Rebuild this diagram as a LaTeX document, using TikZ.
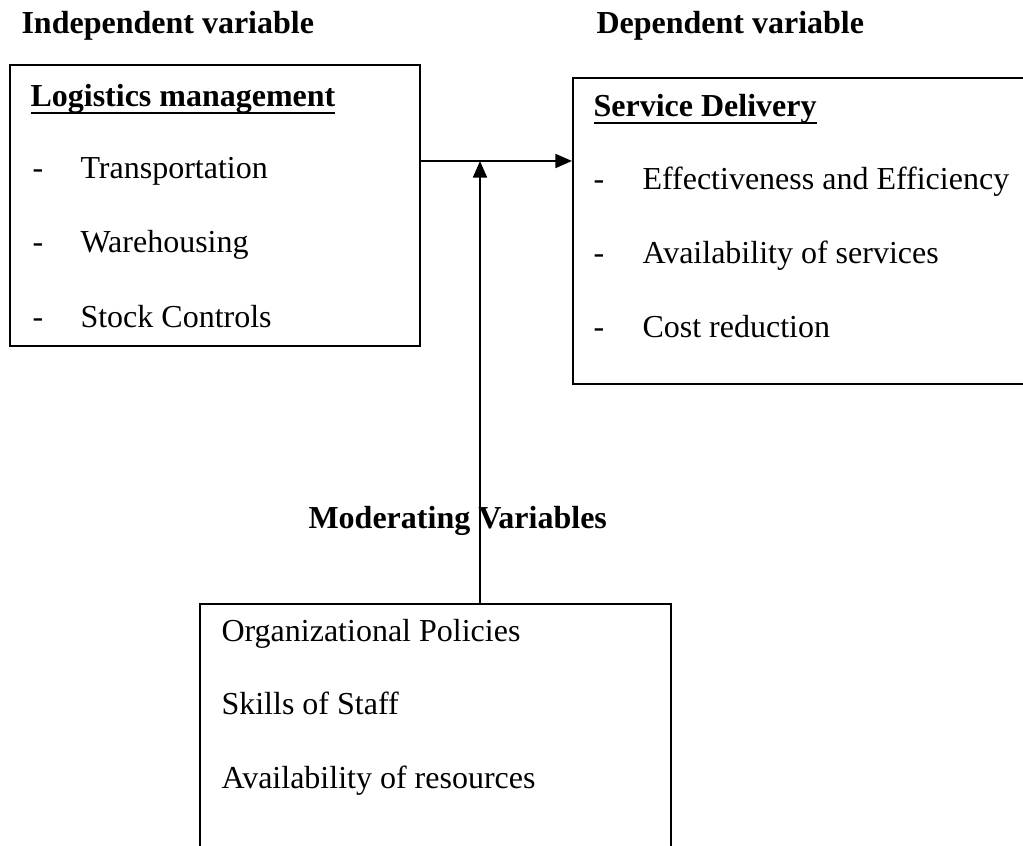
\documentclass[tikz,border=0pt]{standalone}
\usepackage{fontspec}
\setmainfont{Liberation Serif}
\usetikzlibrary{arrows.meta}

% heavier underline for the box titles
\newcommand{\thickul}[1]{\setbox0\hbox{#1}\rlap{\rule[-2.5pt]{\wd0}{0.8pt}}\box0}

\begin{document}
\begin{tikzpicture}[x=0.375pt, y=-0.375pt,
    >={Triangle[length=6.2pt, width=5.2pt]},
    box/.style={draw, line width=0.75pt, anchor=north west, inner sep=0pt},
    hdr/.style={anchor=base west, inner sep=0pt, font=\fontsize{12}{14}\selectfont\bfseries},
    txt/.style={anchor=base west, inner sep=0pt, font=\fontsize{12}{14}\selectfont},
    arr/.style={->, line width=0.75pt},
]
\useasboundingbox (0,0) rectangle (1023,846);
\clip (0,0) rectangle (1023,846);

% --- Headings ---
\node[hdr] (indep) at (21,34) {Independent variable};
\node[hdr] (dep) at (596,34) {Dependent variable};
\node[hdr] (moder) at (308,529) {Moderating Variables};

% --- Independent variable box ---
\node[box, minimum width=153.75pt, minimum height=105.4pt] (logbox) at (9,64) {};
\node[hdr] (logtitle) at (30,107) {\thickul{Logistics management}};
\node[txt] (d1) at (32,179) {-};
\node[txt] (transp) at (80,179) {Transportation};
\node[txt] (d2) at (32,253) {-};
\node[txt] (wareh) at (80,253) {Warehousing};
\node[txt] (d3) at (32,328) {-};
\node[txt] (stock) at (80,328) {Stock Controls};

% --- Dependent variable box ---
\node[box, minimum width=180pt, minimum height=114.75pt] (servbox) at (572,77) {};
\node[hdr] (servtitle) at (593,117) {\thickul{Service Delivery}};
\node[txt] (e1) at (593,190) {-};
\node[txt] (effect) at (642,190) {Effectiveness and Efficiency};
\node[txt] (e2) at (593,264) {-};
\node[txt] (avserv) at (642,264) {Availability of services};
\node[txt] (e3) at (593,338) {-};
\node[txt] (cost) at (642,338) {Cost reduction};

% --- Moderating variables box ---
\node[box, minimum width=176.6pt, minimum height=100pt] (modbox) at (199,603) {};
\node[txt] (policy) at (221,642) {Organizational Policies};
\node[txt] (skills) at (221,715) {Skills of Staff};
\node[txt] (resrc) at (221,789) {Availability of resources};

% --- Arrows ---
\coordinate (join) at (480,161);
\draw[arr] (join -| logbox.east) -- (join -| servbox.west);
\draw[arr] (join |- modbox.north) -- (join);

\end{tikzpicture}
\end{document}
